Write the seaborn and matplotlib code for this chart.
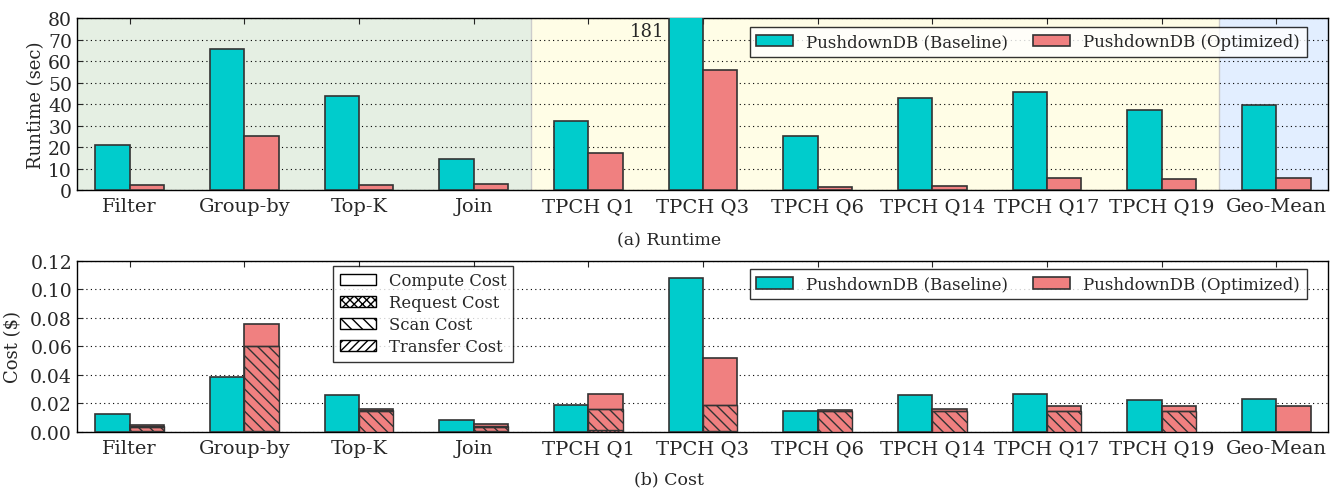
import numpy as np
import pandas as pd
import seaborn as sns
import matplotlib
matplotlib.use('Agg')
import matplotlib.pyplot as plt
from matplotlib.patches import Patch

# данные
queries = ['Filter', 'Group-by', 'Top-K', 'Join', 'TPCH Q1', 'TPCH Q3',
           'TPCH Q6', 'TPCH Q14', 'TPCH Q17', 'TPCH Q19', 'Geo-Mean']
systems = ['PushdownDB (Baseline)', 'PushdownDB (Optimized)']

runtime_base = [21.0, 65.6, 43.9, 14.4, 32.2, 181.0, 25.3, 43.0, 45.7, 37.3, 39.6]
runtime_opt = [2.6, 25.3, 2.6, 2.8, 17.1, 55.9, 1.6, 1.9, 5.6, 5.3, 5.7]

cost_base = [0.0126, 0.0389, 0.0261, 0.0084, 0.0191, 0.1077, 0.0147, 0.0256, 0.0270, 0.0221, 0.0233]
# составляющие стоимости (Optimized), снизу вверх
opt_request = [0.0004, 0.0008, 0.0003, 0.0004, 0.0015, 0.0005, 0.0003, 0.0003, 0.0003, 0.0003, 0.0]
opt_scan = [0.0031, 0.0593, 0.0143, 0.0031, 0.0143, 0.0182, 0.0142, 0.0142, 0.0143, 0.0143, 0.0]
opt_transfer = [0.0004, 0.0002, 0.0005, 0.0004, 0.0002, 0.0002, 0.0003, 0.0004, 0.0003, 0.0003, 0.0]
opt_compute = [0.0010, 0.0152, 0.0007, 0.0014, 0.0103, 0.0333, 0.0006, 0.0012, 0.0033, 0.0033, 0.0180]

cost_labels = ['Compute Cost', 'Request Cost', 'Scan Cost', 'Transfer Cost']
cost_hatches = ['', 'xxxx', '\\\\\\', '////']

teal = '#00CCCC'
salmon = '#F08080'
edge = '#333333'

sns.set_style('white')
plt.rcParams['font.family'] = ['DejaVu Serif']
plt.rcParams['hatch.linewidth'] = 1.0
plt.rcParams['hatch.color'] = 'black'

cost_opt = np.array(opt_request) + np.array(opt_scan) + np.array(opt_transfer) + np.array(opt_compute)

df_rt = pd.DataFrame({
    'query': queries * 2,
    'system': [systems[0]] * len(queries) + [systems[1]] * len(queries),
    'value': runtime_base + runtime_opt,
})
df_cost = pd.DataFrame({
    'query': queries * 2,
    'system': [systems[0]] * len(queries) + [systems[1]] * len(queries),
    'value': cost_base + list(cost_opt),
})

fig = plt.figure(figsize=(13.38, 4.89), dpi=100)
ax1 = fig.add_axes([0.0575, 0.609, 0.935, 0.352])
ax2 = fig.add_axes([0.0575, 0.1145, 0.935, 0.350])

xlim = (-0.46, 10.45)
for ax in (ax1, ax2):
    sns.barplot(data=df_rt if ax is ax1 else df_cost, x='query', y='value', hue='system',
                order=queries, hue_order=systems, palette=[teal, salmon], saturation=1,
                width=0.6, edgecolor=edge, linewidth=1.2, ax=ax, zorder=3)
    ax.set_xlim(*xlim)
    ax.set_xlabel('')
    ax.grid(axis='y', color='black', linestyle=(0, (1, 3)), linewidth=0.8, zorder=1)
    ax.tick_params(axis='x', direction='in', top=True, bottom=False, length=4, labelsize=14, pad=5)
    ax.tick_params(axis='y', direction='in', left=True, length=4, labelsize=13.5)
    for s in ax.spines.values():
        s.set_color('black')
        s.set_linewidth(1.0)
    ax.set_axisbelow(True)

# фоновые области
ax1.axvspan(xlim[0], 3.5, color='#E5EFE3', zorder=0, lw=0)
ax1.axvspan(3.5, 9.5, color='#FFFDE6', zorder=0, lw=0)
ax1.axvspan(9.5, xlim[1], color='#E2EEFF', zorder=0, lw=0)
ax1.axvline(3.5, color='#CCCCCC', lw=1, zorder=0.5)
ax1.axvline(9.5, color='#CCCCCC', lw=1, zorder=0.5)

ax1.set_ylim(0, 80)
ax1.set_yticks(range(0, 81, 10))
ax1.set_ylabel('Runtime (sec)', fontsize=13, labelpad=2)
ax1.text(queries.index('TPCH Q3') - 0.34, 78, '181', ha='right', va='top', fontsize=13, zorder=4)
leg1 = ax1.legend(loc='upper right', bbox_to_anchor=(0.983, 0.951), borderaxespad=0, ncol=2,
                  fontsize=12, frameon=True, fancybox=False, edgecolor='black',
                  columnspacing=1.5, handlelength=2.2)
leg1.get_frame().set_linewidth(1.0)

# составные столбцы стоимости
x = np.arange(len(queries)) + 0.15
bottom = np.zeros(len(queries))
for vals, hatch in [(opt_request, 'xxxx'), (opt_scan, '\\\\\\'), (opt_transfer, '////')]:
    ax2.bar(x, vals, width=0.3, bottom=bottom, color=salmon, edgecolor=edge,
            linewidth=1.0, hatch=hatch, zorder=3.5)
    bottom += np.array(vals)

ax2.set_ylim(0, 0.12)
ax2.set_yticks(np.arange(0, 0.121, 0.02))
ax2.set_yticklabels([f'{v:.2f}' for v in np.arange(0, 0.121, 0.02)])
ax2.set_ylabel('Cost ($)', fontsize=13, labelpad=6)
leg = ax2.legend(loc='upper right', bbox_to_anchor=(0.983, 0.953), borderaxespad=0, ncol=2,
                 fontsize=12, frameon=True, fancybox=False, edgecolor='black',
                 columnspacing=1.5, handlelength=2.2)
leg.get_frame().set_linewidth(1.0)
ax2.add_artist(leg)
hatch_handles = [Patch(facecolor='white', edgecolor='black', hatch=h, label=l)
                 for l, h in zip(cost_labels, cost_hatches)]
leg2 = ax2.legend(handles=hatch_handles, loc='upper left', bbox_to_anchor=(0.201, 1.0),
                  fontsize=11.8, frameon=True, fancybox=False, edgecolor='black',
                  handlelength=2.2, labelspacing=0.3, borderaxespad=0.3)
leg2.get_frame().set_linewidth(1.0)

fig.text(0.5, 0.508, '(a) Runtime', ha='center', va='center', fontsize=12.5)
fig.text(0.5, 0.018, '(b) Cost', ha='center', va='center', fontsize=12.5)

fig.savefig('out.png', dpi=100)
